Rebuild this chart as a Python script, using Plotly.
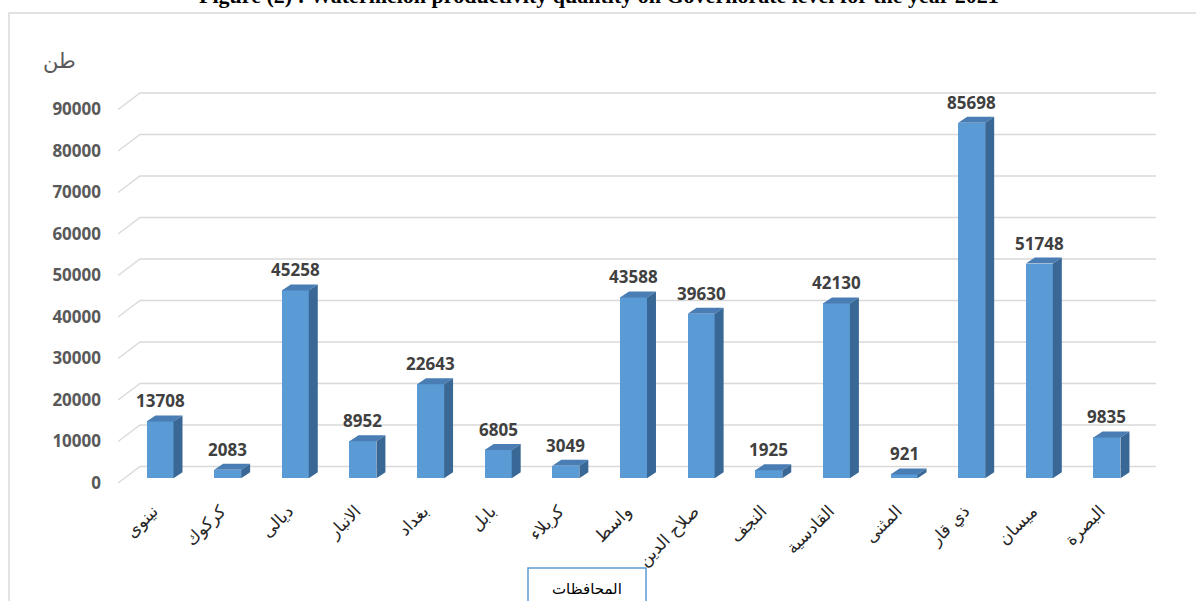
import plotly.graph_objects as go

# ---------------- data ----------------
governorates = ["نينوى", "كركوك", "ديالى", "الانبار", "بغداد", "بابل", "كربلاء", "واسط",
                "صلاح الدين", "النجف", "القادسية", "المثنى", "ذي قار", "ميسان", "البصرة"]
production = [13708, 2083, 45258, 8952, 22643, 6805, 3049, 43588,
              39630, 1925, 42130, 921, 85698, 51748, 9835]
y_ticks = [0, 10000, 20000, 30000, 40000, 50000, 60000, 70000, 80000, 90000]
title_text = "Figure (2) : Watermelon productivity quantity on Governorate level for the year 2021"
y_title = "طن"
x_title = "المحافظات"

# ---------------- layout geometry (pixels) ----------------
W, H = 1196, 601
PL, PR, PT, PB = 118, 1156, 60, 483        # plot box
PX_PER_CAT = 67.64
FIRST_CENTER_PX = 160
PX_PER_Y = 41.5 / 10000

X0 = -(FIRST_CENTER_PX - PL) / PX_PER_CAT
X1 = X0 + (PR - PL) / PX_PER_CAT
Y1 = (PB - PT) / PX_PER_Y


def dx(px):
    return px / PX_PER_CAT


def dy(px):
    return px / PX_PER_Y


def fx(px):
    return px / W


def fy(py):
    return 1 - py / H


FRONT = "#5B9BD5"
TOP = "#4A7DB3"
SIDE = "#3A6896"
GRID = "#D9D9D9"

idx = list(range(len(governorates)))
bar_w = dx(27)
base = dy(4.7)
ddx, ddy = dx(9), dy(6)

fig = go.Figure()

# front faces
fig.add_trace(go.Bar(x=idx, y=production, base=base, width=bar_w,
                     marker=dict(color=FRONT, line=dict(width=0)),
                     hoverinfo="skip", showlegend=False))

# top and side faces
tx, ty, sx, sy = [], [], [], []
for i, v in zip(idx, production):
    xl, xr = i - bar_w / 2, i + bar_w / 2
    top = v + base
    tx += [xl, xr, xr + ddx, xl + ddx, xl, None]
    ty += [top, top, top + ddy, top + ddy, top, None]
    sx += [xr, xr, xr + ddx, xr + ddx, xr, None]
    sy += [base, top, top + ddy, base + ddy, base, None]

fig.add_trace(go.Scatter(x=tx, y=ty, fill="toself", mode="lines", fillcolor=TOP,
                         line=dict(width=0, color=TOP), hoverinfo="skip", showlegend=False))
fig.add_trace(go.Scatter(x=sx, y=sy, fill="toself", mode="lines", fillcolor=SIDE,
                         line=dict(width=0, color=SIDE), hoverinfo="skip", showlegend=False))

# 3D-style gridlines (floor diagonal + back wall)
shapes = []
wall_dx, wall_dy = dx(22), dy(16.5)
for v in y_ticks:
    shapes.append(dict(type="path", layer="below", xref="x", yref="y",
                       path=f"M {X0},{v} L {X0 + wall_dx},{v + wall_dy} L {X1},{v + wall_dy}",
                       line=dict(color=GRID, width=1.4)))

# outer chart border
shapes.append(dict(type="rect", xref="paper", yref="paper", layer="below",
                   x0=fx(9), x1=fx(1210), y0=fy(13), y1=fy(620),
                   line=dict(color=GRID, width=1.5), fillcolor="rgba(0,0,0,0)"))
# axis-title box
shapes.append(dict(type="rect", xref="paper", yref="paper",
                   x0=fx(528), x1=fx(646), y0=fy(568), y1=fy(620),
                   line=dict(color="#5B9BD5", width=1.5), fillcolor="white"))

annotations = []
for i, v in zip(idx, production):
    annotations.append(dict(x=i, y=v + base, xref="x", yref="y", text=f"<b>{v}</b>",
                            showarrow=False, xanchor="center", yanchor="bottom", yshift=7,
                            font=dict(family="Open Sans", size=17, color="#404040")))

annotations.append(dict(x=fx(599), y=fy(10), xref="paper", yref="paper",
                        xanchor="center", yanchor="bottom",
                        text=f"<b>{title_text}</b>", showarrow=False,
                        font=dict(family="Liberation Serif", size=22, color="black")))
annotations.append(dict(x=fx(59), y=fy(61), xref="paper", yref="paper",
                        xanchor="center", yanchor="middle",
                        text=y_title, showarrow=False,
                        font=dict(family="DejaVu Sans", size=21, color="#595959")))
annotations.append(dict(x=fx(587), y=fy(589), xref="paper", yref="paper",
                        xanchor="center", yanchor="middle",
                        text=x_title, showarrow=False,
                        font=dict(family="DejaVu Sans", size=15, color="black")))

fig.update_layout(
    width=W, height=H,
    margin=dict(l=0, r=0, t=0, b=0),
    paper_bgcolor="white", plot_bgcolor="rgba(0,0,0,0)",
    template="none",
    bargap=0,
    shapes=shapes,
    annotations=annotations,
    xaxis=dict(domain=[fx(PL), fx(PR)], range=[X0, X1], tickmode="array",
               tickvals=idx, ticktext=governorates, tickangle=-45,
               tickfont=dict(family="DejaVu Sans", size=17, color="#262626"),
               showgrid=False, zeroline=False, showline=False, ticks="",
               ticklabelstandoff=14, ticklabelshift=-7,
               automargin=False, fixedrange=True),
    yaxis=dict(domain=[1 - PB / H, 1 - PT / H], range=[0, Y1], tickmode="array",
               tickvals=y_ticks, ticktext=[f"<b>{t}</b>" for t in y_ticks],
               tickfont=dict(family="Open Sans", size=17, color="#595959"),
               showgrid=False, zeroline=False, showline=False, ticks="",
               ticklabelstandoff=16, automargin=False, fixedrange=True),
)

fig.write_html("out.html", config={"displayModeBar": False},
               post_script="document.body.style.margin='0';document.body.style.padding='0';"
                           "document.body.style.overflow='hidden';")
